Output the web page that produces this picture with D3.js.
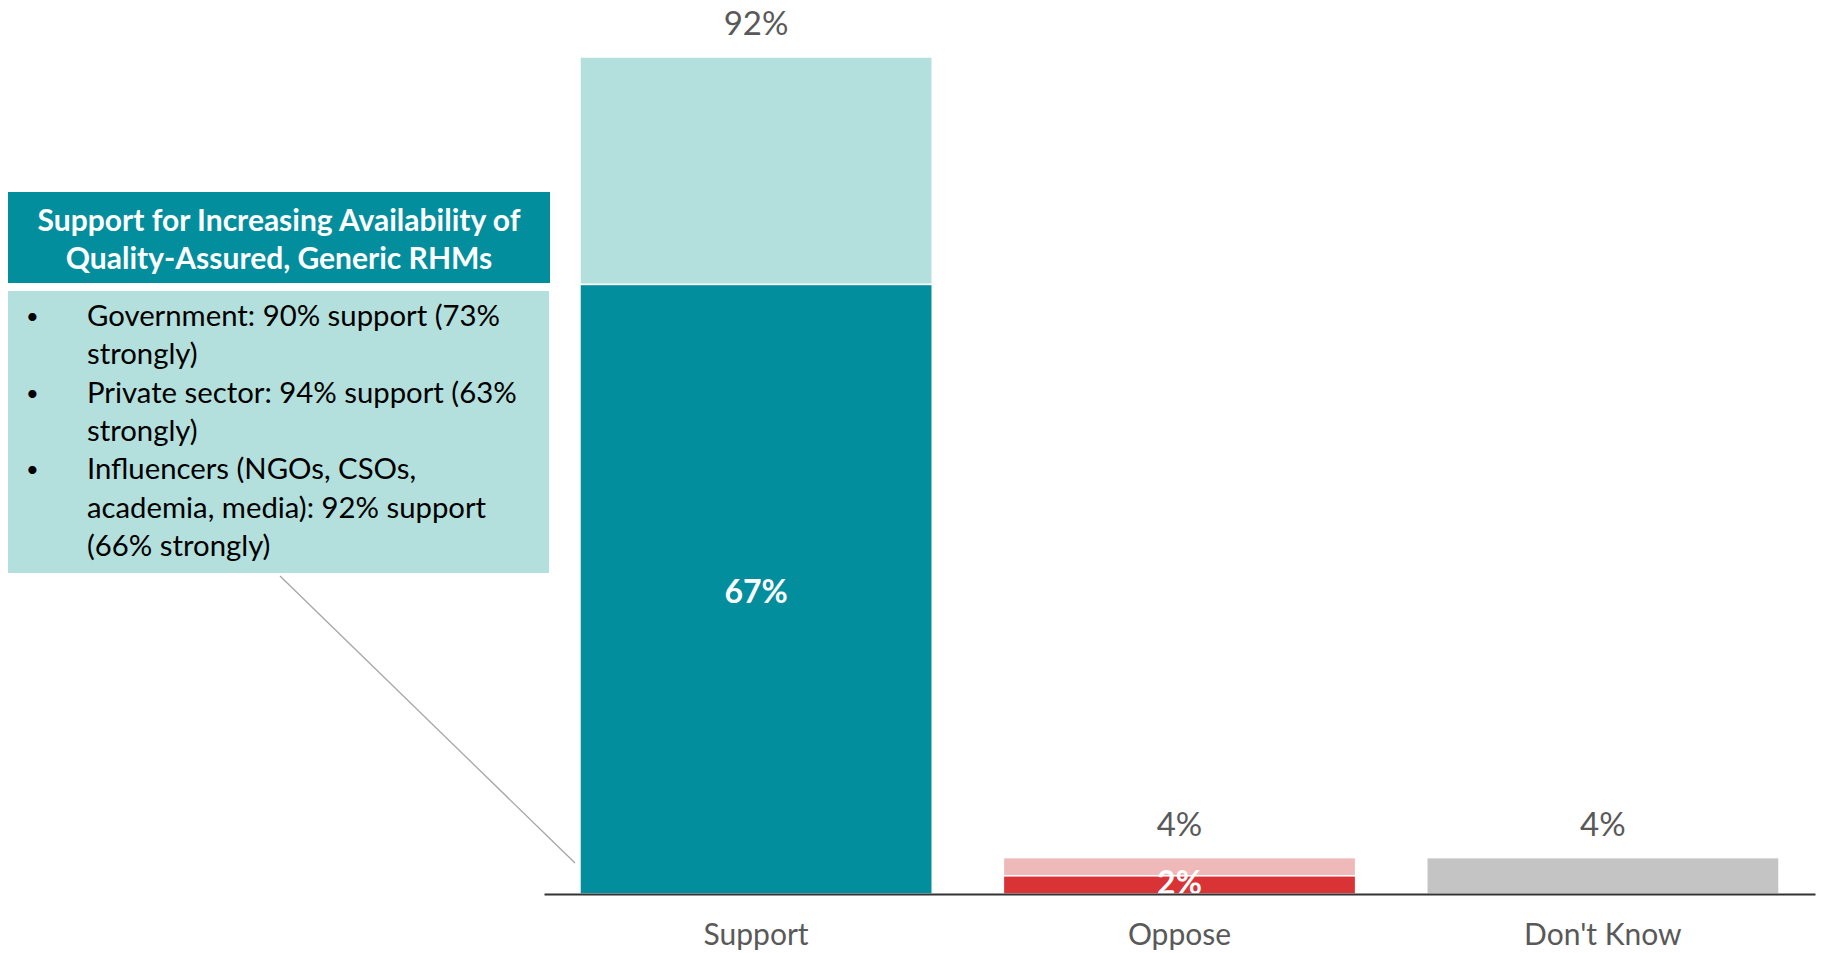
<!DOCTYPE html>
<html>
<head>
<meta charset="utf-8">
<script src="https://cdn.jsdelivr.net/npm/d3@7"></script>
<style>
  body { margin: 0; background: #fff; }
  text { font-family: Lato, "Open Sans", sans-serif; }
</style>
</head>
<body>
<svg id="chart"></svg>
<script>
// values
const categories = ["Support", "Oppose", "Don't Know"];
const totalValues = [92, 4, 4];
const strongValues = [67, 2, 0];
const lightColors = ["#b3dfdc", "#f0b9b9", "#c4c4c4"];
const darkColors = ["#028e9d", "#d93336", "#c4c4c4"];

const boxTitle = ["Support for Increasing Availability of", "Quality-Assured, Generic RHMs"];
// each bullet with its own line breaks
const boxBullets = [
  ["Government: 90% support (73%", "strongly)"],
  ["Private sector: 94% support (63%", "strongly)"],
  ["Influencers (NGOs, CSOs,", "academia, media): 92% support", "(66% strongly)"]
];

const W = 1822, H = 953;
const baseY = 894;

const svg = d3.select("#chart").attr("width", W).attr("height", H);

const xScale = d3.scaleBand()
  .domain(categories)
  .range([544, 1815])
  .paddingInner(0.168)
  .paddingOuter(0.085);

const yScale = d3.scaleLinear()
  .domain([0, d3.max(totalValues)])
  .range([baseY, 57]);

const rows = categories.map((c, i) => ({
  cat: c, total: totalValues[i], strong: strongValues[i],
  light: lightColors[i], dark: darkColors[i]
}));

// light part (total minus strongly) on top of the strong part
svg.append("g").selectAll("rect.light")
  .data(rows)
  .join("rect")
    .attr("class", "light")
    .attr("x", d => xScale(d.cat))
    .attr("width", xScale.bandwidth())
    .attr("y", d => yScale(d.total))
    .attr("height", d => yScale(d.strong) - yScale(d.total))
    .attr("fill", d => d.light)
    .attr("stroke", "#fff")
    .attr("stroke-width", 1.5);

svg.append("g").selectAll("rect.dark")
  .data(rows.filter(d => d.strong > 0))
  .join("rect")
    .attr("class", "dark")
    .attr("x", d => xScale(d.cat))
    .attr("width", xScale.bandwidth())
    .attr("y", d => yScale(d.strong))
    .attr("height", d => baseY - yScale(d.strong))
    .attr("fill", d => d.dark)
    .attr("stroke", "#fff")
    .attr("stroke-width", 1.5);

// totals above the bars
svg.append("g").selectAll("text")
  .data(rows)
  .join("text")
    .attr("x", d => xScale(d.cat) + xScale.bandwidth() / 2)
    .attr("y", d => yScale(d.total) - 22)
    .attr("text-anchor", "middle")
    .attr("font-size", 33)
    .attr("fill", "#595959")
    .text(d => d.total + "%");

// strongly values inside (kept above the axis on thin bars)
svg.append("g").selectAll("text")
  .data(rows.filter(d => d.strong > 0))
  .join("text")
    .attr("x", d => xScale(d.cat) + xScale.bandwidth() / 2)
    .attr("y", d => Math.min((yScale(d.strong) + baseY) / 2 + 2, baseY - 12))
    .attr("dy", "0.36em")
    .attr("text-anchor", "middle")
    .attr("font-size", 32)
    .attr("font-weight", "bold")
    .attr("fill", "#fff")
    .text(d => d.strong + "%");

// x axis
const xAxis = d3.axisBottom(xScale).tickSizeInner(0).tickSizeOuter(0).tickPadding(30);
const gx = svg.append("g")
  .attr("transform", `translate(0, ${baseY})`)
  .call(xAxis);
gx.select(".domain").attr("stroke", "#333").attr("stroke-width", 2);
gx.selectAll("text")
  .attr("font-size", 30)
  .attr("fill", "#595959")
  .style("font-family", "Lato, 'Open Sans', sans-serif");

// callout box
const box = svg.append("g");
box.append("rect")
  .attr("x", 8).attr("y", 192).attr("width", 542).attr("height", 91)
  .attr("fill", "#028e9d");
box.selectAll("text.title")
  .data(boxTitle)
  .join("text")
    .attr("class", "title")
    .attr("x", 279)
    .attr("y", (d, i) => 231 + i * 38)
    .attr("text-anchor", "middle")
    .attr("font-size", 30)
    .attr("font-weight", "bold")
    .attr("fill", "#fff")
    .text(d => d);

box.append("rect")
  .attr("x", 8).attr("y", 291).attr("width", 541).attr("height", 282)
  .attr("fill", "#b3dfdc");

let line = 0;
boxBullets.forEach(b => {
  box.append("text")
    .attr("x", 26).attr("y", 324 + line * 38.3)
    .attr("font-size", 22).attr("fill", "#000")
    .text("•");
  b.forEach(t => {
    box.append("text")
      .attr("x", 87).attr("y", 326 + line * 38.3)
      .attr("font-size", 29.3).attr("fill", "#000")
      .text(t);
    line++;
  });
});

// connector from box to the bar
svg.append("line")
  .attr("x1", 280).attr("y1", 576)
  .attr("x2", 575).attr("y2", 863)
  .attr("stroke", "#a6a6a6")
  .attr("stroke-width", 1.3);
</script>
</body>
</html>
